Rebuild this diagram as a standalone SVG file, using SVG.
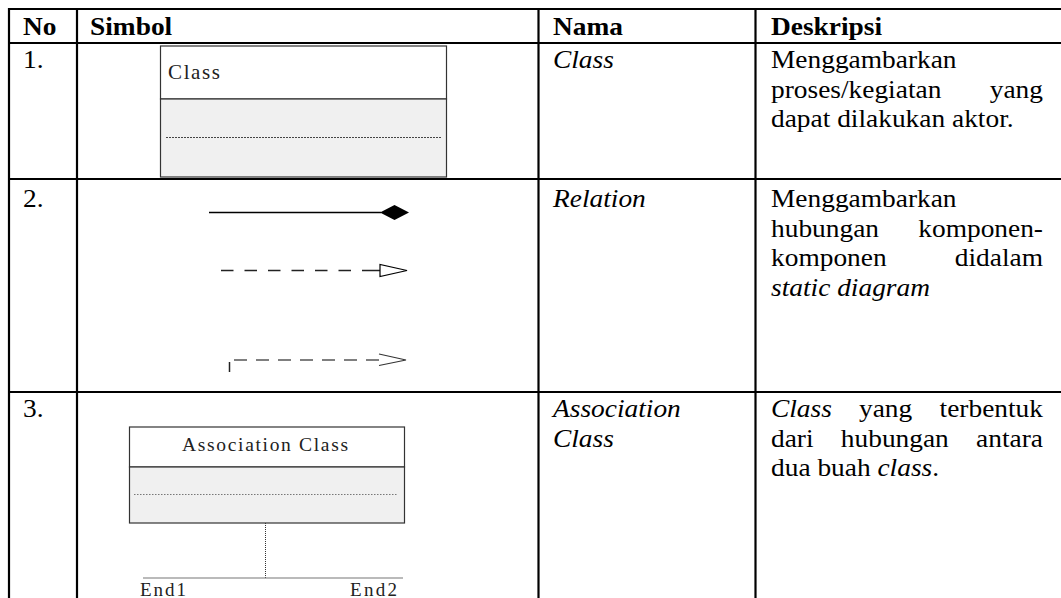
<svg xmlns="http://www.w3.org/2000/svg" width="1061" height="598" viewBox="0 0 1061 598">
  <style>
    .t { font-family: "Liberation Serif", "Times New Roman", "DejaVu Serif", serif; font-size: 25.5px; fill: #000; }
    .b { font-weight: bold; }
    .i { font-style: italic; }
    .grid { stroke: #000; stroke-width: 2.2; fill: none; }
    .box { stroke: #333; stroke-width: 1.2; }
    .lbl { font-family: "Liberation Serif", "Times New Roman", serif; fill: #222; }
  </style>

  <!-- table grid -->
  <g id="grid" class="grid">
    <line x1="8" y1="9" x2="1061" y2="9"/>
    <line x1="8" y1="43" x2="1061" y2="43"/>
    <line x1="8" y1="179" x2="1061" y2="179"/>
    <line x1="8" y1="392" x2="1061" y2="392"/>
    <line x1="9" y1="8" x2="9" y2="598"/>
    <line x1="77" y1="8" x2="77" y2="598"/>
    <line x1="538.5" y1="8" x2="538.5" y2="598"/>
    <line x1="755.5" y1="8" x2="755.5" y2="598"/>
  </g>

  <!-- header row -->
  <g id="header" class="t b">
    <text transform="translate(23 35) scale(1.0745 1)">No</text>
    <text transform="translate(90 35) scale(1.0745 1)">Simbol</text>
    <text transform="translate(553 35) scale(1.0745 1)">Nama</text>
    <text transform="translate(771 35) scale(1.0745 1)">Deskripsi</text>
  </g>

  <!-- row 1: class -->
  <g id="row-class" class="t">
    <text transform="translate(23 68) scale(1.0745 1)">1.</text>
    <text class="i" transform="translate(553 68) scale(1.0745 1)">Class</text>
    <text transform="translate(771 68) scale(1.0745 1)">Menggambarkan</text>
    <text transform="translate(771 97.5) scale(1.0745 1)">proses/kegiatan</text>
    <text text-anchor="end" transform="translate(1043 97.5) scale(1.0745 1)">yang</text>
    <text transform="translate(771 127) scale(1.0745 1)">dapat dilakukan aktor.</text>
  </g>
  <g id="class-symbol">
    <rect x="160.5" y="46" width="286" height="53" fill="#fff" class="box"/>
    <rect x="160.5" y="99" width="286" height="78" fill="#f0f0f0" class="box"/>
    <line x1="166" y1="137.5" x2="441" y2="137.5" stroke="#444" stroke-width="1" stroke-dasharray="2 1"/>
    <text class="lbl" x="168" y="79" font-size="21" textLength="52" lengthAdjust="spacing">Class</text>
  </g>

  <!-- row 2: relation -->
  <g id="row-relation" class="t">
    <text transform="translate(23 207) scale(1.0745 1)">2.</text>
    <text class="i" transform="translate(553 207) scale(1.0745 1)">Relation</text>
    <text transform="translate(771 207) scale(1.0745 1)">Menggambarkan</text>
    <text transform="translate(771 236.5) scale(1.0745 1)">hubungan</text>
    <text text-anchor="end" transform="translate(1043 236.5) scale(1.0745 1)">komponen-</text>
    <text transform="translate(771 266) scale(1.0745 1)">komponen</text>
    <text text-anchor="end" transform="translate(1043 266) scale(1.0745 1)">didalam</text>
    <text class="i" transform="translate(771 295.5) scale(1.0745 1)">static diagram</text>
  </g>
  <g id="connectors">
    <!-- aggregation: solid line with filled diamond -->
    <line x1="209" y1="212.5" x2="381" y2="212.5" stroke="#000" stroke-width="1.3"/>
    <polygon points="380,212.5 394.5,205 409,212.5 394.5,220" fill="#000"/>
    <!-- realization: dashed line with hollow triangle -->
    <path d="M221 270.5h12.5M244.5 270.5h12.5M268 270.5h12.5M291.5 270.5h12.5M315 270.5h12.5M338.5 270.5h12.5M362 270.5h18" stroke="#222" stroke-width="1.3" fill="none"/>
    <polygon points="380,264.5 380,276.5 407,270.5" fill="#fff" stroke="#000" stroke-width="1.2"/>
    <!-- dependency: dashed line with open arrowhead -->
    <line x1="229.5" y1="362" x2="229.5" y2="372" stroke="#222" stroke-width="1.5"/>
    <path d="M234 360h13M256 360h13M278 360h13M300 360h13M322 360h13M344 360h13M366 360h13" stroke="#555" stroke-width="1.3" fill="none"/>
    <polyline points="379,354 406,360 379,365.5" fill="none" stroke="#333" stroke-width="1.1"/>
  </g>

  <!-- row 3: association class -->
  <g id="row-association" class="t">
    <text transform="translate(23 417) scale(1.0745 1)">3.</text>
    <text class="i" transform="translate(553 417) scale(1.0745 1)">Association</text>
    <text class="i" transform="translate(553 446.5) scale(1.0745 1)">Class</text>
    <text class="i" transform="translate(771 417) scale(1.0745 1)">Class</text>
    <text transform="translate(859 417) scale(1.0745 1)">yang</text>
    <text text-anchor="end" transform="translate(1043 417) scale(1.0745 1)">terbentuk</text>
    <text transform="translate(771 446.5) scale(1.0745 1)">dari</text>
    <text transform="translate(840.8 446.5) scale(1.0745 1)">hubungan</text>
    <text text-anchor="end" transform="translate(1043 446.5) scale(1.0745 1)">antara</text>
    <text transform="translate(771 476) scale(1.0745 1)">dua buah <tspan class="i">class</tspan>.</text>
  </g>
  <g id="association-class-symbol">
    <rect x="129.5" y="427" width="275" height="40" fill="#fff" class="box"/>
    <rect x="129.5" y="467" width="275" height="56" fill="#f0f0f0" class="box"/>
    <line x1="134" y1="494.5" x2="398" y2="494.5" stroke="#777" stroke-width="1" stroke-dasharray="1.5 1.5"/>
    <text class="lbl" x="182" y="451" font-size="19.5" textLength="166" lengthAdjust="spacing">Association Class</text>
    <line x1="265.5" y1="523" x2="265.5" y2="578" stroke="#333" stroke-width="1" stroke-dasharray="1 1"/>
    <line x1="143" y1="578" x2="403" y2="578" stroke="#777" stroke-width="1.2"/>
    <text class="lbl" x="140" y="596" font-size="19" textLength="46" lengthAdjust="spacing">End1</text>
    <text class="lbl" x="350" y="596" font-size="19" textLength="47" lengthAdjust="spacing">End2</text>
  </g>
</svg>
